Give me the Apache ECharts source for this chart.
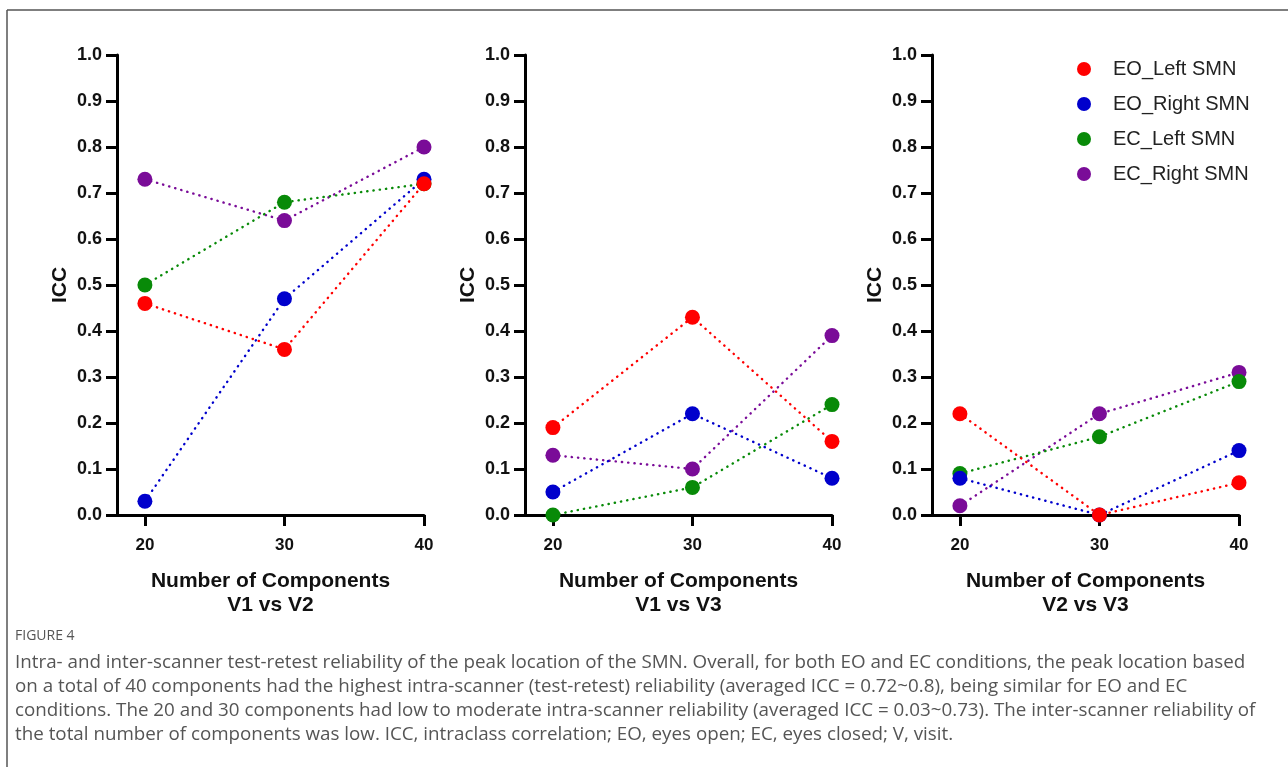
<!DOCTYPE html>
<html>
<head>
<meta charset="utf-8">
<script src="https://cdn.jsdelivr.net/npm/echarts@6/dist/echarts.min.js"></script>
<style>
  html, body { margin: 0; padding: 0; background: #ffffff; }
  #chart { width: 1288px; height: 767px; }
</style>
</head>
<body>
<div id="chart"></div>
<script>
// ---- Data ----
const components = [20, 30, 40];
const seriesNames = ['EO_Left SMN', 'EO_Right SMN', 'EC_Left SMN', 'EC_Right SMN'];
const panelTitles = ['V1 vs V2', 'V1 vs V3', 'V2 vs V3'];
const yTickValues = [0, 0.1, 0.2, 0.3, 0.4, 0.5, 0.6, 0.7, 0.8, 0.9, 1.0];

// Panel 1: V1 vs V2
const v1v2_EO_Left  = [0.46, 0.36, 0.72];
const v1v2_EO_Right = [0.03, 0.47, 0.73];
const v1v2_EC_Left  = [0.50, 0.68, 0.72];
const v1v2_EC_Right = [0.73, 0.64, 0.80];
// Panel 2: V1 vs V3
const v1v3_EO_Left  = [0.19, 0.43, 0.16];
const v1v3_EO_Right = [0.05, 0.22, 0.08];
const v1v3_EC_Left  = [0.00, 0.06, 0.24];
const v1v3_EC_Right = [0.13, 0.10, 0.39];
// Panel 3: V2 vs V3
const v2v3_EO_Left  = [0.22, 0.00, 0.07];
const v2v3_EO_Right = [0.08, 0.00, 0.14];
const v2v3_EC_Left  = [0.09, 0.17, 0.29];
const v2v3_EC_Right = [0.02, 0.22, 0.31];

const captionLabel = 'FIGURE 4';
const captionLines = [
  'Intra- and inter-scanner test-retest reliability of the peak location of the SMN. Overall, for both EO and EC conditions, the peak location based',
  'on a total of 40 components had the highest intra-scanner (test-retest) reliability (averaged ICC = 0.72~0.8), being similar for EO and EC',
  'conditions. The 20 and 30 components had low to moderate intra-scanner reliability (averaged ICC = 0.03~0.73). The inter-scanner reliability of',
  'the total number of components was low. ICC, intraclass correlation; EO, eyes open; EC, eyes closed; V, visit.'
];

// ---- Styling ----
const colors = {
  'EO_Left SMN': '#ff0000',
  'EO_Right SMN': '#0000cc',
  'EC_Left SMN': '#088a08',
  'EC_Right SMN': '#7a0c98'
};
const panels = [
  [v1v2_EO_Left, v1v2_EO_Right, v1v2_EC_Left, v1v2_EC_Right],
  [v1v3_EO_Left, v1v3_EO_Right, v1v3_EC_Left, v1v3_EC_Right],
  [v2v3_EO_Left, v2v3_EO_Right, v2v3_EC_Left, v2v3_EC_Right]
];
const gridLefts = [117, 525, 932];
const FONT = '"Liberation Sans", Arial, Helvetica, sans-serif';

const grids = [], xAxes = [], yAxes = [], series = [];
panels.forEach((panel, p) => {
  grids.push({ left: gridLefts[p], top: 55, width: 307, height: 460, containLabel: false });
  xAxes.push({
    gridIndex: p, type: 'value', min: 18, max: 40,
    name: 'Number of Components\n' + panelTitles[p],
    nameLocation: 'middle', nameGap: 54,
    nameTextStyle: { fontFamily: FONT, fontWeight: 'bold', fontSize: 21, color: '#111', lineHeight: 24 },
    axisLine: { onZero: false, lineStyle: { color: '#000', width: 3 } },
    axisTick: { customValues: components, length: 11, lineStyle: { color: '#000', width: 3 } },
    axisLabel: { customValues: components, margin: 22, fontFamily: FONT, fontWeight: 'bold', fontSize: 17, color: '#111' },
    splitLine: { show: false }
  });
  yAxes.push({
    gridIndex: p, type: 'value', min: 0, max: 1, interval: 0.1,
    name: 'ICC', nameLocation: 'middle', nameGap: 46, nameRotate: 90,
    nameTextStyle: { fontFamily: FONT, fontWeight: 'bold', fontSize: 21, color: '#111' },
    axisLine: { show: true, onZero: false, lineStyle: { color: '#000', width: 3 } },
    axisTick: { show: true, length: 11, lineStyle: { color: '#000', width: 3 } },
    axisLabel: {
      customValues: yTickValues,
      margin: 15, fontFamily: FONT, fontWeight: 'bold', fontSize: 18, color: '#111',
      formatter: v => v.toFixed(1)
    },
    splitLine: { show: false }
  });
  // draw order: EC_Right, EC_Left, EO_Right, EO_Left (red on top)
  [3, 2, 1, 0].forEach(s => {
    const name = seriesNames[s];
    series.push({
      name: name, type: 'line', xAxisIndex: p, yAxisIndex: p,
      data: components.map((c, i) => [c, panel[s][i]]),
      symbol: 'circle', symbolSize: 15, showSymbol: true,
      itemStyle: { color: colors[name] },
      lineStyle: { color: colors[name], width: 2.4, type: [0.3, 6], cap: 'round' },
      emphasis: { disabled: true },
      animation: false
    });
  });
});

const graphics = [
  { type: 'line', shape: { x1: 7, y1: 10, x2: 1288, y2: 10 }, style: { stroke: '#555', lineWidth: 1.5 } },
  { type: 'line', shape: { x1: 7, y1: 10, x2: 7, y2: 767 }, style: { stroke: '#555', lineWidth: 1.5 } },
  { type: 'text', x: 15, y: 636, style: { text: captionLabel, fill: '#555', font: '14px "Open Sans", sans-serif', verticalAlign: 'middle' } }
];
const captionY = [663, 687, 711, 735];
captionLines.forEach((t, i) => {
  graphics.push({ type: 'text', x: 15, y: captionY[i], style: { text: t, fill: '#555', font: '18.8px "Open Sans", sans-serif', verticalAlign: 'middle' } });
});

const chart = echarts.init(document.getElementById('chart'), null, { renderer: 'canvas' });
chart.setOption({
  backgroundColor: '#ffffff',
  animation: false,
  legend: {
    data: seriesNames.map(n => ({ name: n, icon: 'circle' })),
    orient: 'vertical', left: 1072, top: 54,
    itemWidth: 44, itemHeight: 14, itemGap: 15,
    textStyle: { fontFamily: FONT, fontSize: 20, color: '#222', lineHeight: 20, padding: [0, 0, 0, 2] },
    selectedMode: false
  },
  grid: grids, xAxis: xAxes, yAxis: yAxes, series: series,
  graphic: graphics
});
</script>
</body>
</html>
